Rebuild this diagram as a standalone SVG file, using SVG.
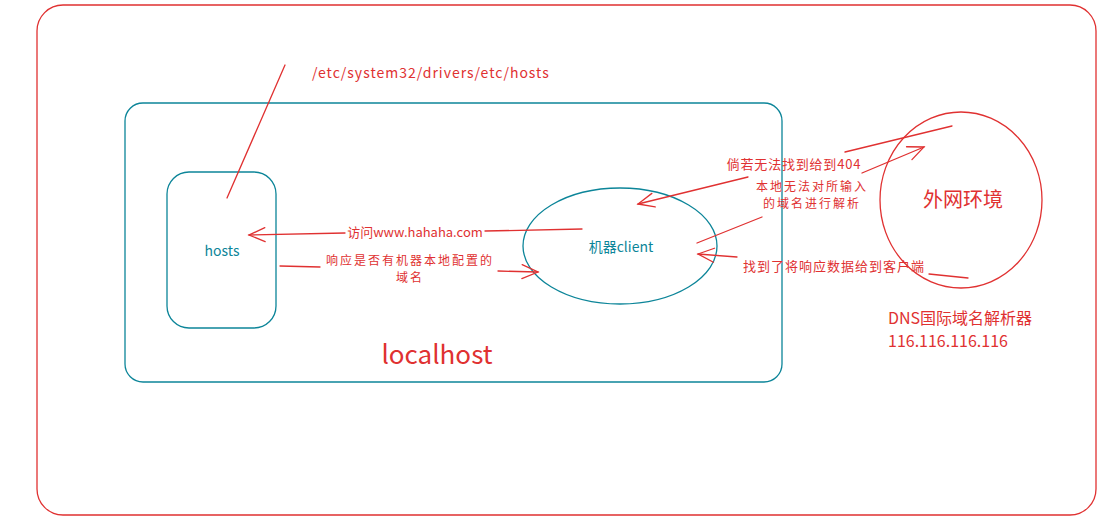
<svg xmlns="http://www.w3.org/2000/svg" width="1119" height="531" viewBox="0 0 1119 531">
<defs>
<style>
.red{fill:none;stroke:#e03131;stroke-width:1.3;stroke-linecap:round}
.teal{fill:none;stroke:#0c8599;stroke-width:1.3}
.rt{fill:#e03131;font-family:"Noto Sans CJK SC","Noto Sans",sans-serif}
.tt{fill:#0c8599;font-family:"Noto Sans CJK SC","Noto Sans",sans-serif}
</style>
<marker id="ah" viewBox="0 0 20 20" refX="18" refY="10" markerWidth="20" markerHeight="20" markerUnits="userSpaceOnUse" orient="auto">
<path d="M2,3 L18,10 L2,17" fill="none" stroke="#e03131" stroke-width="1.3" stroke-linecap="round"/>
</marker>
</defs>
<rect width="1119" height="531" fill="#fff"/>
<g id="outer"><rect class="red" x="37" y="5" width="1059" height="510" rx="26"/></g>
<g id="localhost">
<rect class="teal" x="125" y="103" width="657" height="279" rx="18"/>
<text class="rt" x="437" y="364" font-size="26" text-anchor="middle">localhost</text>
</g>
<g id="hosts">
<rect class="teal" x="167" y="172" width="109" height="156" rx="22"/>
<text class="tt" x="222" y="256" font-size="14" text-anchor="middle">hosts</text>
</g>
<g id="client">
<ellipse class="teal" cx="620" cy="246" rx="97" ry="58"/>
<text class="tt" x="621" y="252" font-size="14" text-anchor="middle">机器client</text>
</g>
<g id="external">
<ellipse class="red" cx="961" cy="200" rx="81" ry="88"/>
<text class="rt" x="963" y="207" font-size="20" text-anchor="middle">外网环境</text>
</g>
<g id="dns-label">
<text class="rt" x="888" y="324" font-size="16">DNS国际域名解析器</text>
<text class="rt" x="888" y="347" font-size="16">116.116.116.116</text>
</g>
<g id="path-label">
<text class="rt" x="312" y="78" font-size="14" letter-spacing="1">/etc/system32/drivers/etc/hosts</text>
</g>
<g id="connectors">
<line class="red" x1="285" y1="65" x2="227" y2="198"/>
<path class="red" d="M582,229 L485,231 M345,233 L249,235" marker-end="url(#ah)"/>
<text class="rt" x="415" y="237" font-size="13" text-anchor="middle">访问www.hahaha.com</text>
<path class="red" d="M280,266 L320,267 M498,271 L538,272" marker-end="url(#ah)"/>
<text class="rt" x="410" y="265" font-size="12" letter-spacing="2" text-anchor="middle">响应是否有机器本地配置的</text>
<text class="rt" x="410" y="282" font-size="12" letter-spacing="2" text-anchor="middle">域名</text>
<path class="red" d="M952,126 L845,152 M748,177 L638,204" marker-end="url(#ah)"/>
<text class="rt" x="794" y="169" font-size="13" letter-spacing="0.8" text-anchor="middle">倘若无法找到给到404</text>
<path class="red" d="M697,243 L762,217 M862,173 L924,147" marker-end="url(#ah)"/>
<text class="rt" x="812" y="191" font-size="12" letter-spacing="2" text-anchor="middle">本地无法对所输入</text>
<text class="rt" x="812" y="208" font-size="12" letter-spacing="2" text-anchor="middle">的域名进行解析</text>
<path class="red" d="M968,278 L929,274 M737,257 L698,254" marker-end="url(#ah)"/>
<text class="rt" x="834" y="271" font-size="13" letter-spacing="1" text-anchor="middle">找到了将响应数据给到客户端</text>
</g>
</svg>
